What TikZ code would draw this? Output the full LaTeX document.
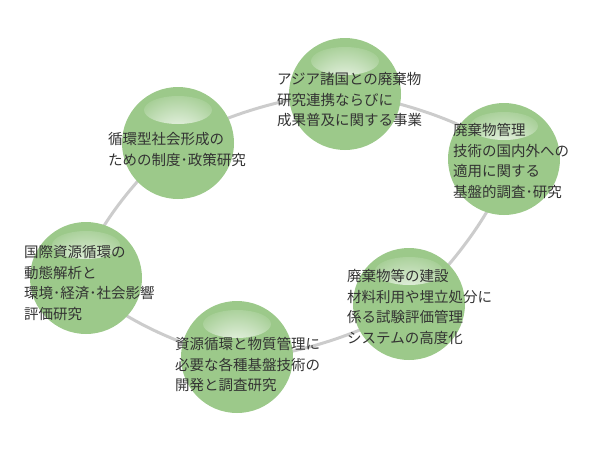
\documentclass[tikz,border=0pt]{standalone}
\usepackage{fontspec}
\newfontfamily\jpfont{Noto Sans CJK JP}
\usetikzlibrary{backgrounds}
\definecolor{ballgreen}{RGB}{156,201,138}
\definecolor{ringgray}{RGB}{204,204,204}
\definecolor{inkgray}{RGB}{51,51,51}
\tikzset{
  ball/.style={circle, fill=ballgreen, minimum size=112pt, inner sep=0pt,
    path picture={\shade[inner color=white, outer color=ballgreen]
      ([yshift=-23pt]path picture bounding box.north) ellipse (34pt and 14pt);}},
  blurb/.style={anchor=north west, align=left, inner sep=0pt, text=inkgray,
    font=\jpfont\fontsize{14.5}{20.5}\selectfont},
  ring/.style={draw=ringgray, line width=3pt}
}
\begin{document}
\begin{tikzpicture}[x=1pt,y=-1pt]
\useasboundingbox (0,0) rectangle (600,450);
            \begin{scope}[every node/.style={ball}]

                \node (top) at (345,94) {};
                \node (upleft) at (178,143) {};
                \node (right) at (504,159) {};
                \node (lowright) at (409,304) {};
                \node (left) at (86,278) {};
                \node (bottom) at (237,357) {};

            \end{scope}
            \begin{pgfonlayer}{background}
                \draw[ring] plot[smooth cycle] coordinates
                    {(top) (right) (lowright) (bottom) (left) (upleft)};
            \end{pgfonlayer}
            \node[blurb] (toptext) at (277,72.5) {アジア諸国との廃棄物\\研究連携ならびに\\成果普及に関する事業};
            \node[blurb] (uplefttext) at (108,132.5) {循環型社会形成の\\ための制度･政策研究};
            \node[blurb] (righttext) at (453,123.5) {廃棄物管理\\技術の国内外への\\適用に関する\\基盤的調査･研究};
            \node[blurb] (lowrighttext) at (347,269.5) {廃棄物等の建設\\材料利用や埋立処分に\\係る試験評価管理\\システムの高度化};
            \node[blurb] (lefttext) at (24,245.5) {国際資源循環の\\動態解析と\\環境･経済･社会影響\\評価研究};
            \node[blurb] (bottomtext) at (175,337.5) {資源循環と物質管理に\\必要な各種基盤技術の\\開発と調査研究};
        \end{tikzpicture}
\end{document}
